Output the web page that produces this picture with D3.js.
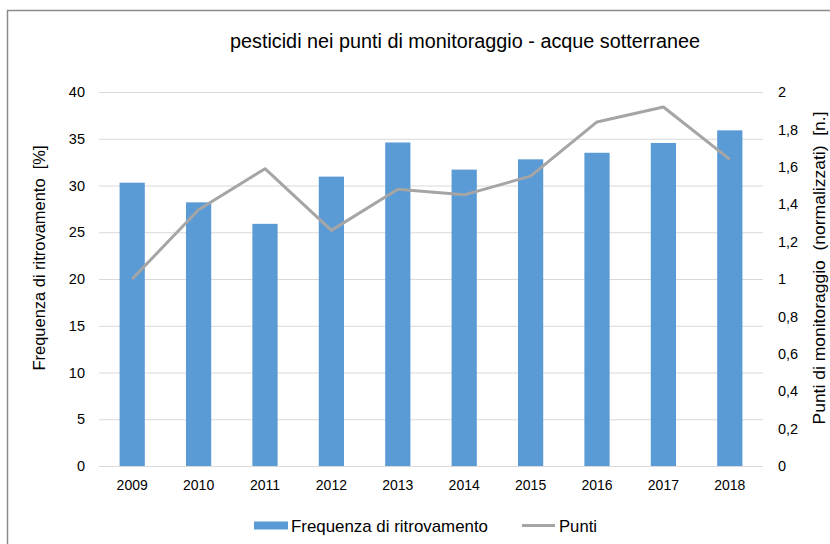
<!DOCTYPE html>
<html>
<head>
<meta charset="utf-8">
<script src="https://cdn.jsdelivr.net/npm/d3@7/dist/d3.min.js"></script>
<style>
  html, body { margin: 0; padding: 0; background: #fff; }
  svg { display: block; font-family: "Liberation Sans", Arial, sans-serif; }
  text { white-space: pre; }
</style>
</head>
<body>
<svg id="chart" width="830" height="544"></svg>
<script>
// Dati
const anni = ["2009", "2010", "2011", "2012", "2013", "2014", "2015", "2016", "2017", "2018"]
const frequenza = [30.3, 28.2, 25.9, 30.95, 34.6, 31.7, 32.8, 33.5, 34.55, 35.9]
const punti = [1.0, 1.37, 1.59, 1.26, 1.48, 1.45, 1.55, 1.84, 1.92, 1.64]
const ticksSx = [0, 5, 10, 15, 20, 25, 30, 35, 40]
const ticksDx = [0, 0.2, 0.4, 0.6, 0.8, 1, 1.2, 1.4, 1.6, 1.8, 2]

const colors = { barre: "#5b9bd5", linea: "#a5a5a5", griglia: "#d9d9d9", testo: "#000" }

const svg = d3.select("#chart")
const margin = { top: 92, right: 67, bottom: 78, left: 99 }
const width = 830 - margin.left - margin.right
const height = 544 - margin.top - margin.bottom

// Cornice
svg.append("rect")
  .attr("x", 7.5).attr("y", 10.5)
  .attr("width", 840).attr("height", 560)
  .style("fill", "none").style("stroke", "#8c8c8c").style("stroke-width", 1.5)

// Titolo
svg.append("text")
  .attr("x", 465).attr("y", 48)
  .style("text-anchor", "middle")
  .style("font-size", "20px")
  .attr("textLength", 470).attr("lengthAdjust", "spacingAndGlyphs")
  .text("pesticidi nei punti di monitoraggio - acque sotterranee")

const g = svg.append("g").attr("transform", "translate(" + margin.left + "," + margin.top + ")")

const x = d3.scaleBand().domain(anni).range([0, width]).padding(0)
const y0 = d3.scaleLinear().domain([0, 40]).range([height, 0])
const y1 = d3.scaleLinear().domain([0, 2]).range([height, 0])

/* Griglia
-------------------------------------------------------------------------------------------------*/
g.append("g")
  .attr("class", "grid")
  .call(d3.axisLeft(y0).tickValues(ticksSx).tickSize(-width).tickFormat(""))
  .call(a => a.select(".domain").remove())
  .selectAll("line").style("stroke", colors.griglia)

/* Assi
-------------------------------------------------------------------------------------------------*/
const virgola = v => String(v).replace(".", ",")

g.append("g")
  .call(d3.axisLeft(y0).tickValues(ticksSx).tickSize(0).tickPadding(14))
  .call(a => a.select(".domain").remove())
  .selectAll("text")
  .style("font-size", "14.5px").style("fill", colors.testo)
  .style("font-family", "Liberation Sans, Arial, sans-serif")

g.append("g")
  .attr("transform", "translate(" + width + ",0)")
  .call(d3.axisRight(y1).tickValues(ticksDx).tickSize(0).tickPadding(15).tickFormat(virgola))
  .call(a => a.select(".domain").remove())
  .selectAll("text")
  .style("font-size", "14.5px").style("fill", colors.testo)
  .style("font-family", "Liberation Sans, Arial, sans-serif")

g.append("g")
  .attr("transform", "translate(0," + height + ")")
  .call(d3.axisBottom(x).tickSize(0).tickPadding(14))
  .call(a => a.select(".domain").remove())
  .selectAll("text")
  .style("font-size", "14px").style("fill", colors.testo)
  .style("font-family", "Liberation Sans, Arial, sans-serif")

// Titoli degli assi
svg.append("text")
  .attr("transform", "translate(45,258) rotate(-90)")
  .style("text-anchor", "middle")
  .style("font-size", "16.5px")
  .attr("textLength", 225).attr("lengthAdjust", "spacingAndGlyphs")
  .text("Frequenza di ritrovamento  [%]")

svg.append("text")
  .attr("transform", "translate(825,268) rotate(-90)")
  .style("text-anchor", "middle")
  .style("font-size", "17px")
  .attr("textLength", 313).attr("lengthAdjust", "spacingAndGlyphs")
  .text("Punti di monitoraggio  (normalizzati)  [n.]")

/* Barre e linea
-------------------------------------------------------------------------------------------------*/
const barWidth = x.bandwidth() * 0.38

g.append("g")
  .selectAll("rect")
  .data(frequenza)
  .enter()
  .append("rect")
  .attr("x", (d, i) => x(anni[i]) + (x.bandwidth() - barWidth) / 2)
  .attr("width", barWidth)
  .attr("y", d => y0(d))
  .attr("height", d => height - y0(d))
  .style("fill", colors.barre)

const linea = d3.line()
  .x((d, i) => x(anni[i]) + x.bandwidth() / 2)
  .y(d => y1(d))

g.append("path")
  .datum(punti)
  .attr("d", linea)
  .style("fill", "none")
  .style("stroke", colors.linea)
  .style("stroke-width", 3)
  .style("stroke-linejoin", "round")

/* Legenda
-------------------------------------------------------------------------------------------------*/
const leg = svg.append("g").attr("transform", "translate(254,525.5)")

leg.append("rect")
  .attr("x", 0).attr("y", -4).attr("width", 34).attr("height", 8)
  .style("fill", colors.barre)
leg.append("text")
  .attr("x", 37).attr("y", 6)
  .style("font-size", "17px")
  .attr("textLength", 197).attr("lengthAdjust", "spacingAndGlyphs")
  .text("Frequenza di ritrovamento")

leg.append("line")
  .attr("x1", 268).attr("x2", 301).attr("y1", 0).attr("y2", 0)
  .style("stroke", colors.linea).style("stroke-width", 3)
leg.append("text")
  .attr("x", 305).attr("y", 6)
  .style("font-size", "17px")
  .attr("textLength", 38).attr("lengthAdjust", "spacingAndGlyphs")
  .text("Punti")
</script>
</body>
</html>
